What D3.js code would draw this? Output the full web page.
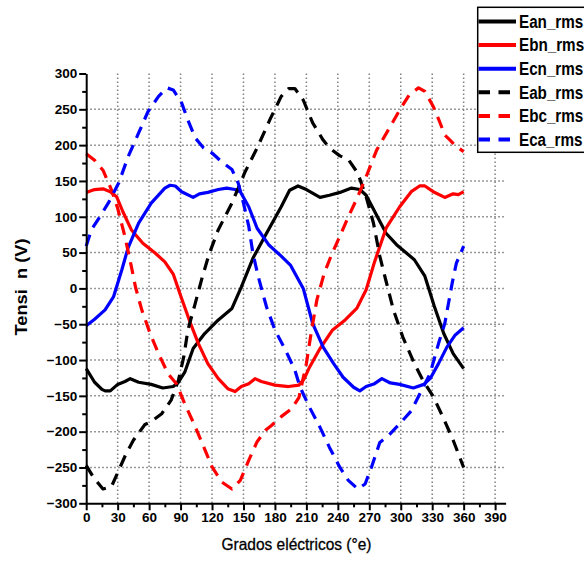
<!DOCTYPE html>
<html>
<head>
<meta charset="utf-8">
<script src="https://cdn.jsdelivr.net/npm/d3@7"></script>
<style>
  body { margin: 0; background: #fff; }
  svg { display: block; font-family: Arial, "Liberation Sans", sans-serif; }
</style>
</head>
<body>
<svg id="chart" width="584" height="567"></svg>
<script>
// Phase and line voltages (RMS) against electrical angle: [degrees, volts]
const ean = [[0,-112],[8,-131],[15,-141],[18,-143],[23,-143],[30,-134],[37,-130],[42,-126],[50,-131],[62,-134],[73,-139],[83,-137],[88,-131],[94,-117],[102,-84],[113,-63],[126,-44],[139,-28],[148,2],[159,42],[172,77],[186,114],[194,137],[202,143],[210,138],[223,127],[232,130],[242,134],[253,140],[261,138],[267,130],[277,102],[286,77],[296,61],[313,40],[323,17],[332,-25],[341,-63],[350,-91],[360,-112]];
const ebn = [[0,134],[8,138],[16,139],[23,135],[29,128],[35,107],[43,82],[54,63],[66,49],[75,37],[83,20],[90,-10],[99,-47],[107,-77],[116,-105],[126,-126],[135,-140],[142,-144],[148,-137],[155,-133],[161,-126],[167,-130],[180,-135],[193,-137],[203,-135],[208,-126],[213,-110],[223,-84],[235,-58],[247,-44],[258,-28],[267,-2],[275,37],[286,84],[299,114],[310,135],[318,143],[323,143],[331,135],[342,127],[350,132],[355,131],[360,135]];
const ecn = [[0,-52],[8,-43],[18,-30],[26,-12],[34,26],[40,57],[50,91],[62,119],[75,140],[80,144],[85,143],[91,135],[102,127],[108,132],[116,134],[126,138],[134,140],[142,138],[147,135],[155,114],[163,84],[174,61],[186,45],[195,32],[207,0],[216,-49],[226,-82],[236,-105],[245,-124],[255,-138],[261,-143],[267,-137],[275,-133],[282,-126],[290,-132],[299,-134],[312,-139],[322,-134],[328,-126],[336,-105],[344,-82],[352,-65],[360,-55]];
const eab = [[0,-247],[7,-264],[16,-280],[24,-277],[31,-254],[38,-231],[45,-212],[56,-190],[62,-186],[72,-175],[81,-156],[88,-128],[93,-96],[97,-58],[104,-21],[110,12],[117,47],[126,82],[139,119],[151,161],[163,196],[175,235],[186,268],[193,279],[199,279],[207,263],[216,231],[226,207],[232,196],[242,185],[250,180],[259,161],[267,128],[274,91],[280,45],[286,10],[293,-30],[302,-68],[313,-105],[321,-128],[331,-151],[341,-182],[350,-212],[360,-250]];
const ebc = [[0,188],[8,179],[16,165],[24,138],[30,112],[37,72],[43,31],[47,2],[53,-30],[61,-63],[69,-91],[78,-119],[86,-133],[94,-161],[104,-193],[112,-221],[120,-249],[129,-270],[139,-280],[147,-268],[155,-240],[163,-214],[171,-198],[177,-191],[186,-179],[196,-168],[203,-152],[210,-105],[215,-58],[220,-16],[227,21],[234,47],[242,73],[250,100],[259,128],[267,156],[277,193],[288,221],[299,249],[308,270],[317,280],[323,275],[331,254],[337,233],[342,214],[347,207],[353,198],[360,191]];
const eca = [[0,59],[5,82],[13,100],[21,119],[31,147],[40,184],[50,217],[59,247],[69,268],[77,280],[83,277],[91,259],[97,235],[104,210],[112,196],[120,189],[129,177],[139,166],[145,147],[150,119],[155,87],[159,49],[164,17],[169,-10],[172,-26],[180,-58],[190,-86],[199,-114],[204,-138],[213,-166],[223,-194],[232,-222],[242,-250],[250,-268],[259,-280],[266,-273],[272,-250],[280,-215],[288,-206],[299,-189],[310,-171],[320,-142],[328,-119],[336,-77],[342,-49],[349,7],[353,35],[360,59]];

const seriesNames = ["Ean_rms", "Ebn_rms", "Ecn_rms", "Eab_rms", "Ebc_rms", "Eca_rms"];
const seriesData = [ean, ebn, ecn, eab, ebc, eca];
const seriesColors = ["#000000", "#ff0000", "#0000ff", "#000000", "#ff0000", "#0000ff"];
const seriesDashed = [false, false, false, true, true, true];

const xTicks = [0, 30, 60, 90, 120, 150, 180, 210, 240, 270, 300, 330, 360, 390];
const yTicks = [-300, -250, -200, -150, -100, -50, 0, 50, 100, 150, 200, 250, 300];

const svg = d3.select("#chart");
const x = d3.scaleLinear().domain([0, 400]).range([86.2, 505.6]);
const y = d3.scaleLinear().domain([-300, 300]).range([503.3, 73.5]);

// dotted grid
const grid = svg.append("g")
  .attr("stroke", "#808080")
  .attr("stroke-width", 1.5)
  .attr("stroke-dasharray", "1.6,2.4");
grid.selectAll(".gx").data(xTicks.filter(d => d > 0)).join("line")
  .attr("x1", d => x(d)).attr("x2", d => x(d))
  .attr("y1", y(300)).attr("y2", y(-300));
grid.selectAll(".gy").data(yTicks.filter(d => d > -300 && d < 300)).join("line")
  .attr("x1", x(0)).attr("x2", x(400))
  .attr("y1", d => y(d)).attr("y2", d => y(d));

// curves
const line = d3.line().x(d => x(d[0])).y(d => y(d[1]));
svg.append("g").selectAll("path").data(seriesData).join("path")
  .attr("d", line)
  .attr("fill", "none")
  .attr("stroke", (d, i) => seriesColors[i])
  .attr("stroke-width", 3.2)
  .attr("stroke-linejoin", "round")
  .attr("stroke-dasharray", (d, i) => seriesDashed[i] ? "12,8" : null);

// axes
const tickFont = g => g.selectAll("text")
  .attr("font-size", 13.5).attr("font-weight", "bold")
  .attr("font-family", "Arial, 'Liberation Sans', sans-serif").attr("fill", "#000");
const axisStyle = g => {
  g.select(".domain").attr("stroke", "#000").attr("stroke-width", 2);
  g.selectAll(".tick line").attr("stroke", "#000").attr("stroke-width", 2);
};

const xAxis = svg.append("g").attr("transform", `translate(0,${y(-300)})`);
xAxis.append("g")
  .call(d3.axisBottom(x).tickValues(d3.range(15, 400, 30)).tickSize(4).tickFormat("").tickSizeOuter(0))
  .call(axisStyle).call(g => g.select(".domain").remove());
xAxis.append("g")
  .call(d3.axisBottom(x).tickValues(xTicks).tickSize(7).tickPadding(2).tickSizeOuter(0))
  .call(axisStyle).call(tickFont);

const yAxis = svg.append("g").attr("transform", `translate(${x(0)},0)`);
yAxis.append("g")
  .call(d3.axisLeft(y).tickValues(d3.range(-275, 300, 50)).tickSize(4).tickFormat("").tickSizeOuter(0))
  .call(axisStyle).call(g => g.select(".domain").remove());
yAxis.append("g")
  .call(d3.axisLeft(y).tickValues(yTicks).tickSize(7).tickPadding(2).tickSizeOuter(0))
  .call(axisStyle).call(tickFont);

// axis titles
svg.append("text")
  .attr("transform", `translate(27,${y(2)}) rotate(-90)`)
  .attr("text-anchor", "middle")
  .attr("font-size", 16.5).attr("font-weight", "bold")
  .attr("textLength", 97).attr("lengthAdjust", "spacingAndGlyphs")
  .text("Tensi\u00a0\u00a0n (V)");
svg.append("text")
  .attr("x", 296.5).attr("y", 550)
  .attr("text-anchor", "middle")
  .attr("font-size", 16.5)
  .attr("textLength", 150).attr("lengthAdjust", "spacingAndGlyphs")
  .attr("stroke", "#000").attr("stroke-width", 0.3)
  .text("Grados eléctricos (°e)");

// legend
const legend = svg.append("g");
legend.append("rect")
  .attr("x", 477.7).attr("y", 7.3).attr("width", 130).attr("height", 145)
  .attr("fill", "#fff").attr("stroke", "#000").attr("stroke-width", 1.5);
const rows = legend.selectAll(".row").data(seriesNames).join("g")
  .attr("transform", (d, i) => `translate(0,${21.5 + i * 23.6})`);
rows.append("line")
  .attr("x1", 478.5).attr("x2", 516).attr("y1", 0).attr("y2", 0)
  .attr("stroke", (d, i) => seriesColors[i])
  .attr("stroke-width", 4)
  .attr("stroke-dasharray", (d, i) => seriesDashed[i] ? "11.5,8.5" : null);
rows.append("text")
  .attr("transform", "translate(519,0) scale(0.87,1)")
  .attr("dy", "0.36em")
  .attr("font-size", 17.5).attr("font-weight", "bold")
  .text(d => d);
</script>
</body>
</html>
